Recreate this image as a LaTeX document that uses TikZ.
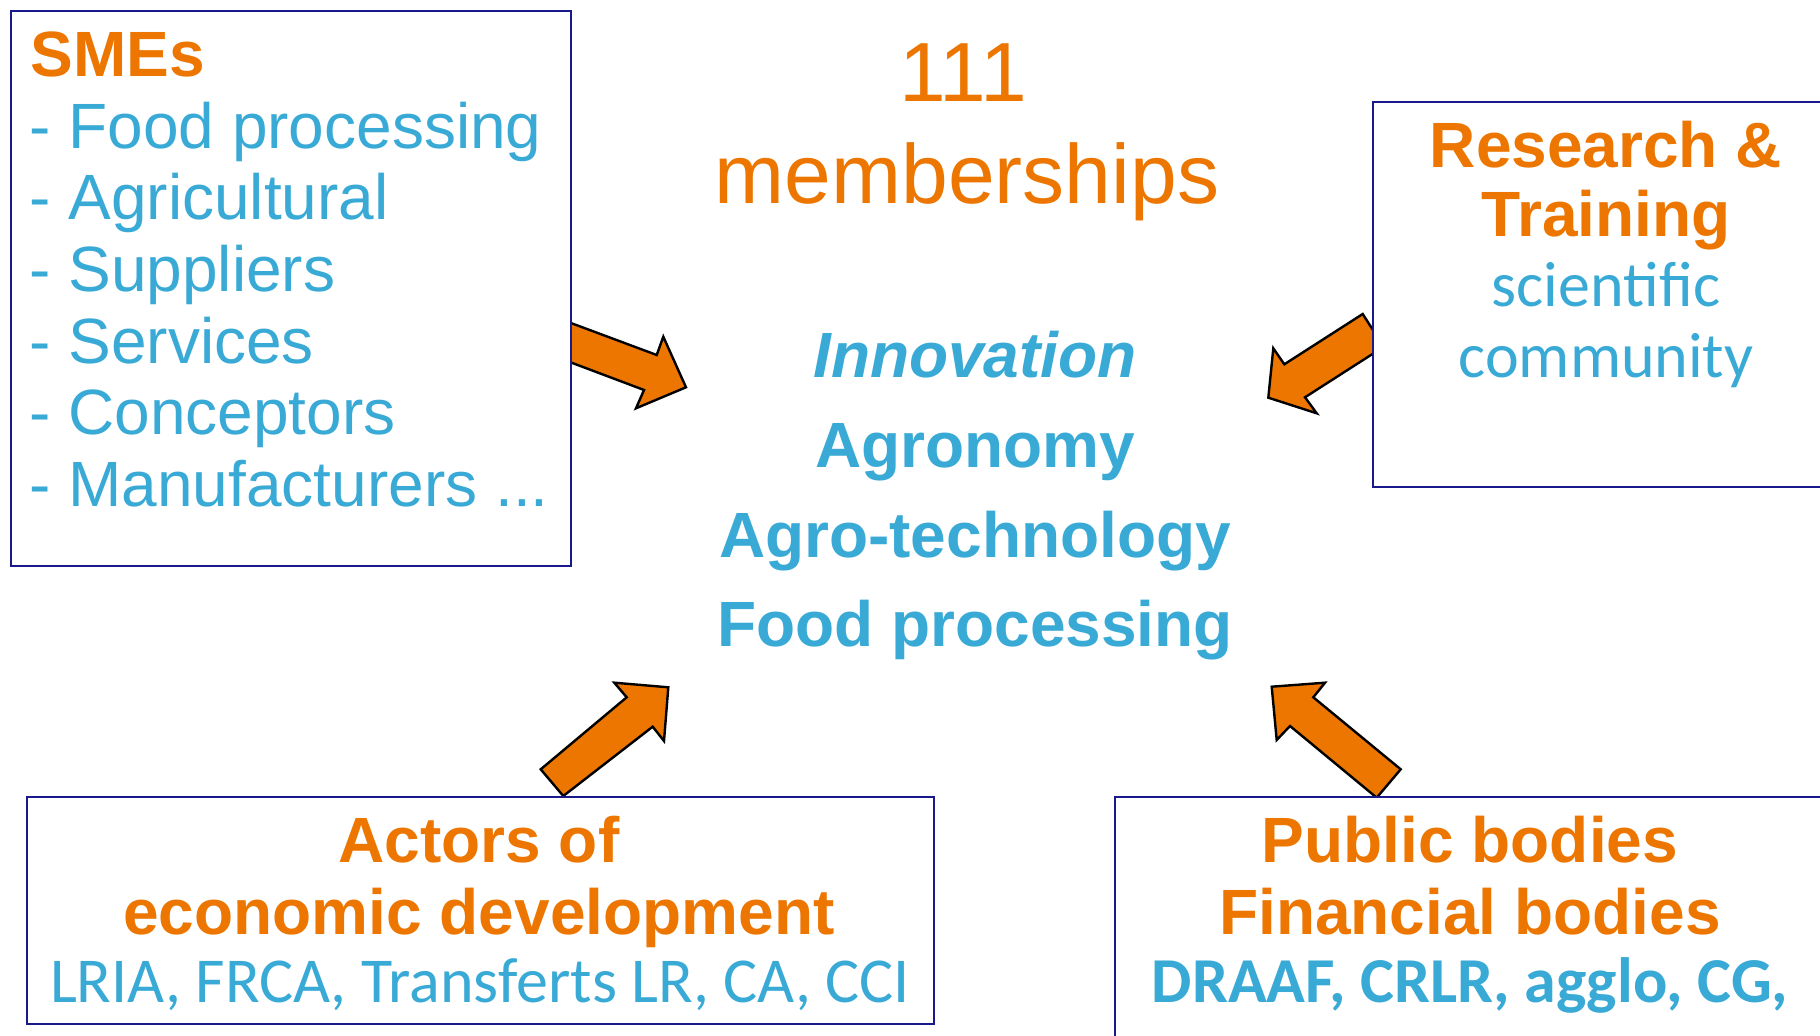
\documentclass[tikz,border=0pt]{standalone}
\usepackage{fontspec}
\setmainfont{Liberation Sans}
\newfontfamily\calib{Carlito}
\definecolor{orng}{RGB}{236,118,0}
\definecolor{blu}{RGB}{57,170,214}
\definecolor{navy}{RGB}{25,25,140}
\begin{document}
\begin{tikzpicture}[x=0.5pt,y=-0.5pt,
  box/.style={draw=navy,line width=1.2pt,fill=white,inner sep=0pt,anchor=north west},
  blockarrow/.style={draw=black,line width=1.2pt,fill=orng,line join=miter},
  txt/.style={inner sep=0pt,anchor=base},
  ttl/.style={txt,text=orng,font=\fontsize{32}{37}\selectfont\bfseries},
  itm/.style={txt,text=blu,font=\fontsize{32}{37}\selectfont},
  cal/.style={txt,text=blu,font=\fontsize{32}{37}\selectfont\calib},
  big/.style={txt,text=orng,font=\fontsize{42}{50}\selectfont},
  mid/.style={txt,text=blu,font=\fontsize{32}{37}\selectfont\bfseries},
]
\clip (0,0) rectangle (1820,1036);
\fill[white] (0,0) rectangle (1820,1036);

% block arrows (drawn below the boxes)
\draw[blockarrow] (532.5,308.7) -- (656.7,355) -- (663.3,336.7) -- (686,387.3)
  -- (636,408.3) -- (644,390) -- (532.5,348) -- cycle;
\draw[blockarrow] (1362.7,314) -- (1383.7,346.8) -- (1305,397.3) -- (1316.7,413.3)
  -- (1268.3,397.7) -- (1273.3,348.3) -- (1284.3,364.3) -- cycle;
\draw[blockarrow] (540.7,769.3) -- (626.7,697.3) -- (614.3,682.7) -- (668.3,687.3)
  -- (664,741) -- (652.7,726.7) -- (563.3,796) -- cycle;
\draw[blockarrow] (1271.7,686.7) -- (1325,682.7) -- (1313.3,697.3) -- (1400.7,769.3)
  -- (1376.7,797.7) -- (1290,726) -- (1276.7,740) -- cycle;

% boxes
\node[box,minimum width=280pt,minimum height=277.5pt] (smebox) at (10,10) {};
\node[box,minimum width=229pt,minimum height=192.5pt] (resbox) at (1372,101) {};
\node[box,minimum width=453.75pt,minimum height=113.5pt] (actbox) at (25.5,796) {};
\node[box,minimum width=358pt,minimum height=125pt] (pubbox) at (1114,796) {};

% SMEs
\node[ttl,anchor=base west] (smet) at (30,77) {SMEs};
\node[itm,anchor=base west] (sme1) at (29,148.5) {- Food processing};
\node[itm,anchor=base west] (sme2) at (29,220) {- Agricultural};
\node[itm,anchor=base west] (sme3) at (29,291.7) {- Suppliers};
\node[itm,anchor=base west] (sme4) at (29,363.3) {- Services};
\node[itm,anchor=base west] (sme5) at (29,434.9) {- Conceptors};
\node[itm,anchor=base west] (sme6) at (29,506.5) {- Manufacturers ...};

% title
\node[big] (num) at (963,102) {111};
\node[big] (memb) at (967,204) {memberships};

% centre
\node[mid,font=\fontsize{32}{37}\selectfont\bfseries\itshape] (inno) at (975,377.5) {Innovation};
\node[mid] (agro) at (975,467.5) {Agronomy};
\node[mid] (agtech) at (975,557.5) {Agro-technology};
\node[mid] (food) at (975,647) {Food processing};

% research
\node[ttl] (rest1) at (1606,167.5) {Research \&};
\node[ttl] (rest2) at (1606,237) {Training};
\node[cal] (sci) at (1606,307) {scientific};
\node[cal] (comm) at (1606,378) {community};

% actors
\node[ttl] (act1) at (479,862.3) {Actors of};
\node[ttl] (act2) at (479,934) {economic development};
\node[cal] (act3) at (480,1002.5) {LRIA, FRCA, Transferts LR, CA, CCI};

% public
\node[ttl] (pub1) at (1470,862.3) {Public bodies};
\node[ttl] (pub2) at (1470,934) {Financial bodies};
\node[cal,font=\fontsize{32}{37}\selectfont\calib\bfseries] (pub3) at (1470,1002) {DRAAF, CRLR, agglo, CG,};
\end{tikzpicture}
\end{document}
